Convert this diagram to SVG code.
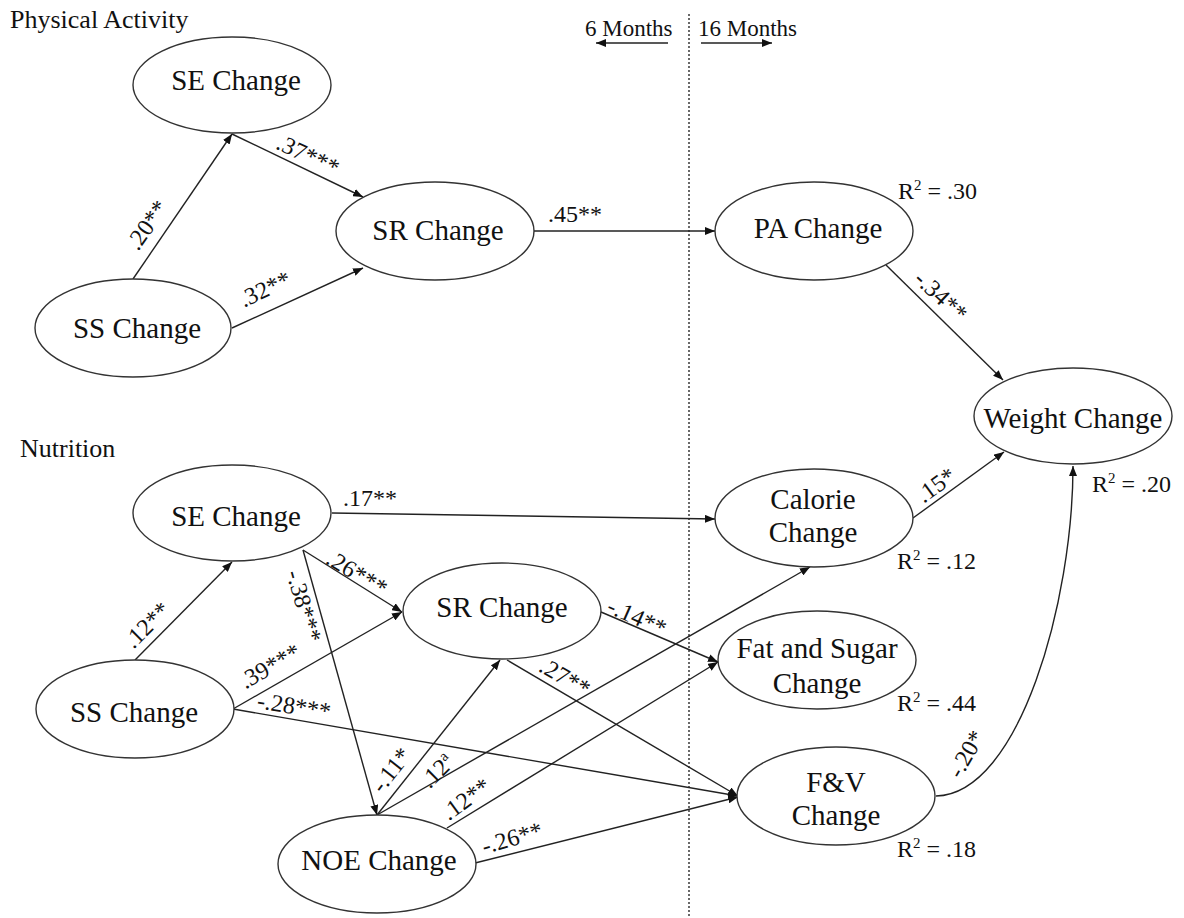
<svg xmlns="http://www.w3.org/2000/svg" width="1184" height="918" viewBox="0 0 1184 918">
<style>
  .node ellipse { fill: #fff; stroke: #333; stroke-width: 1.4; }
  .nt { font-family: "Liberation Serif", "Times New Roman", serif; font-size: 29px; fill: #111; text-anchor: middle; }
  .lbl { font-family: "Liberation Serif", "Times New Roman", serif; font-size: 24px; fill: #111; }
  .el { font-family: "Liberation Serif", "Times New Roman", serif; font-size: 24px; fill: #111; text-anchor: middle; }
  .hdr { font-family: "Liberation Serif", "Times New Roman", serif; font-size: 26px; fill: #111; }
  .mo { font-family: "Liberation Serif", "Times New Roman", serif; font-size: 23px; fill: #111; }
  .edge { fill: none; stroke: #222; stroke-width: 1.4; marker-end: url(#ah); }
  .sup { font-size: 15px; }
</style>
<defs>
  <marker id="ah" viewBox="0 0 10 8" refX="10" refY="4" markerWidth="10" markerHeight="8" markerUnits="userSpaceOnUse" orient="auto">
    <path d="M0,0 L10,4 L0,8 Z" fill="#111"/>
  </marker>
</defs>
<rect width="1184" height="918" fill="#fff"/>

<!-- headers -->
<text class="hdr" x="10" y="28">Physical Activity</text>
<text class="hdr" x="20" y="457">Nutrition</text>
<text class="mo" x="585" y="36">6 Months</text>
<text class="mo" x="698" y="36">16 Months</text>

<!-- divider -->
<line x1="689" y1="14" x2="689" y2="918" stroke="#444" stroke-width="1.6" stroke-dasharray="2 2"/>

<g id="connectors">
  <line class="edge" x1="668" y1="43" x2="596" y2="43"/>
  <line class="edge" x1="701" y1="43" x2="772" y2="43"/>
  <!-- Physical Activity -->
  <line class="edge" x1="133" y1="279" x2="232" y2="134"/>
  <line class="edge" x1="232" y1="134" x2="363" y2="197"/>
  <line class="edge" x1="232" y1="328" x2="363" y2="268"/>
  <line class="edge" x1="534" y1="231" x2="715" y2="231"/>
  <line class="edge" x1="886" y1="265" x2="1003" y2="380"/>
  <!-- Nutrition -->
  <line class="edge" x1="135" y1="660" x2="232" y2="562"/>
  <line class="edge" x1="332" y1="513" x2="715" y2="519"/>
  <line class="edge" x1="303" y1="550" x2="402" y2="612"/>
  <line class="edge" x1="303" y1="550" x2="377" y2="815"/>
  <line class="edge" x1="233" y1="709" x2="402" y2="612"/>
  <line class="edge" x1="233" y1="709" x2="738" y2="796"/>
  <line class="edge" x1="601" y1="612" x2="718" y2="662"/>
  <line class="edge" x1="507" y1="660" x2="738" y2="796"/>
  <line class="edge" x1="377" y1="815" x2="500" y2="660"/>
  <line class="edge" x1="377" y1="815" x2="810" y2="567"/>
  <line class="edge" x1="447" y1="828" x2="718" y2="662"/>
  <line class="edge" x1="475" y1="863" x2="738" y2="797"/>
  <line class="edge" x1="913" y1="518" x2="1004" y2="452"/>
  <path class="edge" d="M936 796 C 1020 794, 1073 600, 1073 466"/>
</g>

<g id="edge-labels">
  <text class="el" transform="translate(147,225) rotate(-55)" x="0" y="8">.20**</text>
  <text class="el" transform="translate(308,155) rotate(25)" x="0" y="8">.37***</text>
  <text class="el" transform="translate(265,289) rotate(-25)" x="0" y="8">.32**</text>
  <text class="lbl" x="548" y="222">.45**</text>
  <text class="el" transform="translate(941,296) rotate(43)" x="0" y="8">-.34**</text>
  <text class="el" transform="translate(936,485) rotate(-36)" x="0" y="8">.15*</text>
  <text class="el" transform="translate(966,754) rotate(-60)" x="0" y="8">-.20*</text>

  <text class="el" transform="translate(147,625) rotate(-45)" x="0" y="8">.12**</text>
  <text class="lbl" x="343" y="506">.17**</text>
  <text class="el" transform="translate(357,573) rotate(31)" x="0" y="8">.26***</text>
  <text class="el" transform="translate(304,606) rotate(74)" x="0" y="8">-.38***</text>
  <text class="el" transform="translate(270,666) rotate(-30)" x="0" y="8">.39***</text>
  <text class="el" transform="translate(294,706) rotate(9)" x="0" y="8">-.28***</text>
  <text class="el" transform="translate(637,617) rotate(24)" x="0" y="8">-.14**</text>
  <text class="el" transform="translate(565,677) rotate(30)" x="0" y="8">.27**</text>
  <text class="el" transform="translate(391,770) rotate(-52)" x="0" y="8">-.11*</text>
  <text class="el" transform="translate(437,771) rotate(-45)" x="0" y="8">.12<tspan class="sup" dy="-9">a</tspan></text>
  <text class="el" transform="translate(466,799) rotate(-36)" x="0" y="8">.12**</text>
  <text class="el" transform="translate(512,838) rotate(-16)" x="0" y="8">-.26**</text>

  <text class="lbl" x="898" y="199">R<tspan class="sup" dy="-9">2</tspan><tspan dy="9"> = .30</tspan></text>
  <text class="lbl" x="1092" y="492">R<tspan class="sup" dy="-9">2</tspan><tspan dy="9"> = .20</tspan></text>
  <text class="lbl" x="897" y="569">R<tspan class="sup" dy="-9">2</tspan><tspan dy="9"> = .12</tspan></text>
  <text class="lbl" x="897" y="711">R<tspan class="sup" dy="-9">2</tspan><tspan dy="9"> = .44</tspan></text>
  <text class="lbl" x="897" y="857">R<tspan class="sup" dy="-9">2</tspan><tspan dy="9"> = .18</tspan></text>
</g>

<!-- Physical Activity nodes -->
<g id="pa-se" class="node"><ellipse cx="232" cy="85" rx="99" ry="48"/><text class="nt" x="236" y="90">SE Change</text></g>
<g id="pa-ss" class="node"><ellipse cx="133" cy="328" rx="98" ry="49"/><text class="nt" x="137" y="338">SS Change</text></g>
<g id="pa-sr" class="node"><ellipse cx="435" cy="231" rx="99" ry="49"/><text class="nt" x="438" y="240">SR Change</text></g>
<g id="pa-change" class="node"><ellipse cx="814" cy="231" rx="99" ry="49"/><text class="nt" x="818" y="238">PA Change</text></g>
<g id="weight" class="node"><ellipse cx="1073" cy="416" rx="99" ry="48"/><text class="nt" x="1073" y="428">Weight Change</text></g>

<!-- Nutrition nodes -->
<g id="n-se" class="node"><ellipse cx="232" cy="513" rx="99" ry="48"/><text class="nt" x="236" y="526">SE Change</text></g>
<g id="n-ss" class="node"><ellipse cx="135" cy="709" rx="99" ry="49"/><text class="nt" x="134" y="722">SS Change</text></g>
<g id="n-sr" class="node"><ellipse cx="502" cy="611" rx="99" ry="48"/><text class="nt" x="502" y="617">SR Change</text></g>
<g id="noe" class="node"><ellipse cx="377" cy="864" rx="99" ry="49"/><text class="nt" x="379" y="870">NOE Change</text></g>
<g id="calorie" class="node"><ellipse cx="814" cy="518" rx="99" ry="49"/><text class="nt" x="813" y="509">Calorie</text><text class="nt" x="813" y="542">Change</text></g>
<g id="fat" class="node"><ellipse cx="817" cy="660" rx="99" ry="49"/><text class="nt" x="817" y="658">Fat and Sugar</text><text class="nt" x="817" y="693">Change</text></g>
<g id="fv" class="node"><ellipse cx="836" cy="796" rx="99" ry="49"/><text class="nt" x="836" y="792">F&amp;V</text><text class="nt" x="836" y="825">Change</text></g>
</svg>
